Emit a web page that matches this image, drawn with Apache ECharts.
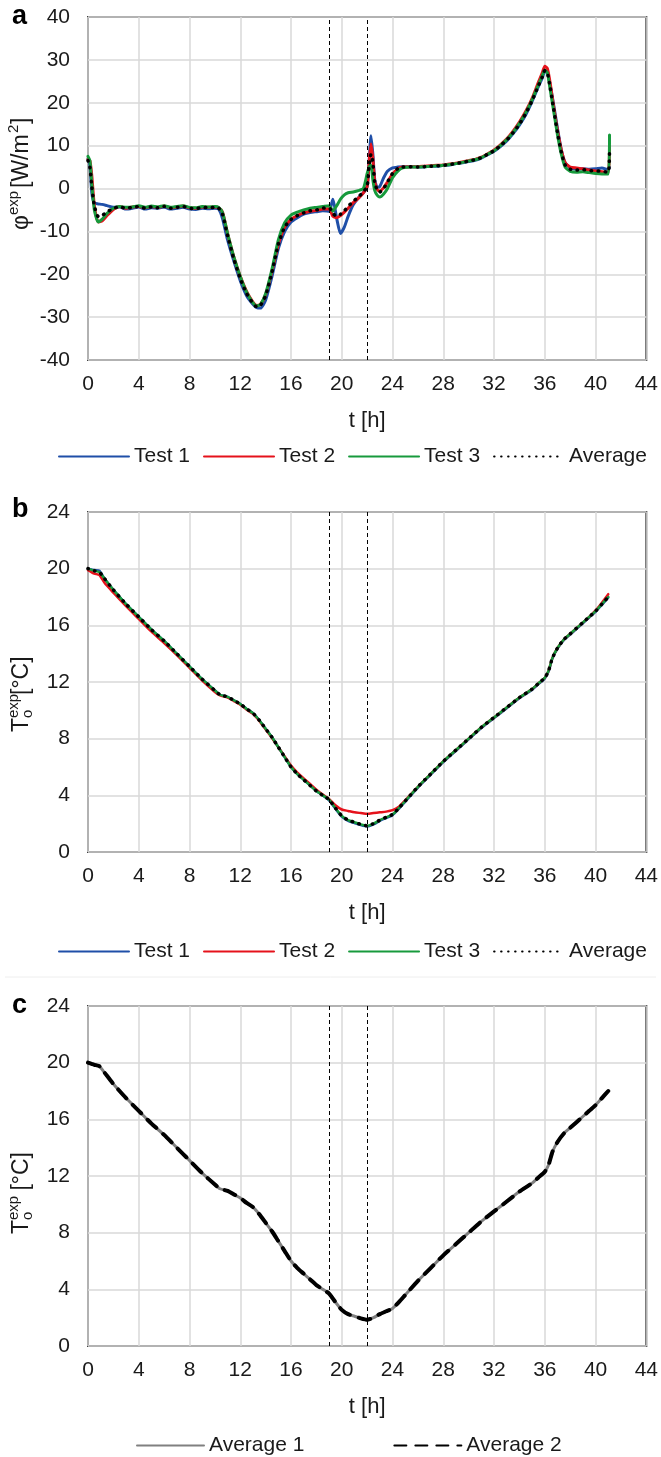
<!DOCTYPE html>
<html>
<head>
<meta charset="utf-8">
<script src="https://cdn.jsdelivr.net/npm/echarts@6/dist/echarts.min.js"></script>
<style>
  html, body { margin: 0; padding: 0; background: #fff; }
  #chart { width: 661px; height: 1457px; }
</style>
</head>
<body>
<div id="chart"></div>
<script>
// panel a: heat flux, time [h]
const tA = [
  0, 0.15, 0.3, 0.5, 0.8, 1.1, 1.5, 2, 2.5, 3,
  3.5, 4, 4.5, 5, 5.5, 6, 6.5, 7, 7.5, 8,
  8.5, 9, 9.5, 10, 10.3, 10.6, 11, 11.5, 12, 12.5,
  13, 13.3, 13.6, 14, 14.5, 15, 15.5, 16, 16.5, 17,
  17.5, 18, 18.5, 19, 19.3, 19.6, 19.9, 20.2, 20.5, 20.9,
  21.3, 21.7, 22, 22.15, 22.3, 22.45, 22.6, 22.8, 23, 23.3,
  23.6, 24, 24.4, 24.8, 25.5, 26, 26.5, 27, 27.5, 28,
  28.5, 29, 29.5, 30, 30.5, 31, 31.5, 32, 32.5, 33,
  33.5, 34, 34.5, 35, 35.5, 35.8, 36, 36.2, 36.4, 36.7,
  37, 37.3, 37.6, 38, 38.5, 39, 39.5, 40, 40.5, 41,
  41.1
]
const aTest1 = [
  7, 5.5, -1, -3.4, -3.6, -3.7, -4, -4.4, -4.3, -4.8,
  -4.6, -4.3, -4.8, -4.5, -4.6, -4.3, -4.8, -4.6, -4.4, -4.8,
  -4.9, -4.6, -4.7, -4.6, -4.8, -7, -12, -17, -21.5, -25,
  -27, -27.8, -27.9, -26, -20.5, -14, -10, -7.8, -6.8, -6,
  -5.6, -5.4, -5.2, -5.3, -2.5, -7, -10.5, -9, -6.5, -3.8,
  -2.2, -1, 0.5, 6, 12.3, 8, 2, 0.3, 0.5, 2.5,
  4, 4.8, 5, 5.1, 5.1, 5, 5, 5.2, 5.2, 5.4,
  5.5, 5.8, 6, 6.3, 6.6, 7.1, 7.9, 8.7, 9.8, 11.1,
  12.8, 14.8, 17.2, 20.3, 23.8, 25.8, 27.3, 27, 24.5, 19.5,
  14, 9, 6, 4.8, 4.5, 4.6, 4.5, 4.6, 4.8, 4.4,
  5
]
const aTest2 = [
  6.8, 6.5, 3, -4, -7.8, -7.6, -6.3, -4.9, -4.2, -4.6,
  -4.3, -4.2, -4.5, -4.2, -4.4, -4.1, -4.5, -4.3, -4.1, -4.5,
  -4.6, -4.3, -4.4, -4.3, -4.5, -5.5, -10.5, -16, -20.5, -24,
  -26.5, -27.3, -27, -24.7, -19.3, -13, -9, -7.2, -6.3, -5.7,
  -5.3, -5.1, -4.8, -4.7, -6.5, -6.8, -6.3, -5.5, -4.6, -3.3,
  -2.3, -1, 0.5, 6, 10.4, 7, 1.5, -0.3, -0.6, 0.2,
  1.5, 3.4, 4.5, 5, 5.1, 5.1, 5.2, 5.3, 5.4, 5.5,
  5.7, 5.9, 6.2, 6.5, 6.8, 7.3, 8.1, 9, 10.2, 11.6,
  13.4, 15.5, 18, 21, 24.8, 27, 28.5, 28, 25, 19,
  13.5, 9, 6, 5, 4.8, 4.6, 4.3, 4.1, 3.9, 3.7,
  10
]
const aTest3 = [
  7.5, 6.5, 1, -5, -7.8, -7.2, -5.8, -4.6, -4.2, -4.4,
  -4.3, -4, -4.4, -4.1, -4.3, -4, -4.4, -4.2, -4, -4.4,
  -4.5, -4.2, -4.3, -4.2, -4.4, -5.6, -10.5, -16, -20.5, -24.2,
  -26.7, -27.4, -27, -24.5, -18.8, -12, -8, -6.2, -5.5, -5,
  -4.6, -4.4, -4.2, -4, -5.3, -4, -2.5, -1.5, -1, -0.8,
  -0.5, 0, 3.5, 5, 5.5, 2, -0.5, -1.6, -2, -1.3,
  0, 2.5, 4, 4.8, 5, 5, 5.1, 5.2, 5.3, 5.4,
  5.6, 5.8, 6.1, 6.4, 6.7, 7.2, 8, 8.8, 10, 11.4,
  13.1, 15.2, 17.7, 20.7, 24.2, 26.3, 27.6, 27, 23.5, 18,
  12.5, 8, 5, 4, 3.8, 3.9, 3.7, 3.5, 3.4, 3.4,
  12.5
]
const aAvg = [
  6.5, 5, 0.5, -4, -6.5, -6.3, -5.5, -4.6, -4.3, -4.6,
  -4.4, -4.2, -4.6, -4.3, -4.5, -4.2, -4.6, -4.4, -4.2, -4.6,
  -4.7, -4.4, -4.5, -4.4, -4.6, -6, -11, -16.5, -21, -24.5,
  -26.8, -27.6, -27.2, -25, -19.5, -13, -9, -7.2, -6.3, -5.7,
  -5.2, -5, -4.6, -4.5, -5.8, -6.5, -6, -5.2, -4.2, -3,
  -2, -0.8, 0.5, 5, 8, 6, 1.5, -0.5, -0.8, 0,
  1.5, 3.5, 4.6, 5, 5.1, 5, 5.1, 5.2, 5.3, 5.4,
  5.6, 5.8, 6.1, 6.4, 6.7, 7.2, 8, 8.8, 10, 11.3,
  13, 15, 17.5, 20.5, 24, 26, 27.5, 27, 24, 18.5,
  13, 8.5, 5.5, 4.5, 4.3, 4.4, 4.2, 4.1, 4, 3.8,
  9
]

// panels b and c: operative temperature
const tB = [
  0, 0.5, 0.9, 1.3, 2, 3, 4, 5, 6, 7,
  8, 9, 10, 10.4, 11, 11.5, 12, 12.5, 13, 13.5,
  14, 14.5, 15, 15.5, 16, 16.5, 17, 17.5, 18, 18.5,
  19, 19.5, 20, 20.5, 21, 21.5, 22, 22.5, 23, 23.5,
  24, 24.5, 25, 26, 27, 28, 29, 30, 31, 32,
  33, 34, 35, 35.5, 36, 36.3, 36.6, 37, 37.5, 38,
  38.5, 39, 39.5, 40, 40.5, 41
]
const bAvg = [
  20, 19.85, 19.75, 19.3, 18.5, 17.5, 16.6, 15.7, 14.9, 14,
  13.1, 12.2, 11.4, 11.1, 10.95, 10.7, 10.45, 10.1, 9.8, 9.3,
  8.7, 8.1, 7.4, 6.7, 6, 5.5, 5.1, 4.7, 4.3, 4,
  3.7, 3.1, 2.55, 2.25, 2.1, 1.95, 1.85, 2, 2.25, 2.45,
  2.65, 3.1, 3.6, 4.6, 5.5, 6.4, 7.2, 8, 8.8, 9.5,
  10.2, 10.9, 11.5, 11.9, 12.3, 12.8, 13.7, 14.4, 15, 15.4,
  15.8, 16.2, 16.6, 17, 17.5, 18
]
const bTest1 = [
  20, 19.9, 19.85, 19.3, 18.5, 17.5, 16.6, 15.7, 14.9, 14,
  13.1, 12.2, 11.4, 11.1, 10.95, 10.7, 10.45, 10.1, 9.8, 9.3,
  8.7, 8.1, 7.4, 6.7, 6, 5.5, 5.1, 4.7, 4.3, 4,
  3.65, 3.05, 2.5, 2.2, 2.05, 1.9, 1.8, 1.95, 2.2, 2.4,
  2.6, 3.05, 3.55, 4.55, 5.45, 6.35, 7.15, 7.95, 8.75, 9.45,
  10.15, 10.85, 11.45, 11.85, 12.25, 12.75, 13.65, 14.35, 14.95, 15.35,
  15.75, 16.15, 16.55, 16.95, 17.45, 17.95
]
const bTest2 = [
  19.9, 19.65, 19.55, 19, 18.3, 17.35, 16.45, 15.55, 14.75, 13.9,
  13, 12.1, 11.3, 11.05, 10.9, 10.65, 10.4, 10.05, 9.75, 9.25,
  8.65, 8.05, 7.4, 6.75, 6.1, 5.6, 5.2, 4.8, 4.4, 4.05,
  3.75, 3.3, 3, 2.9, 2.8, 2.75, 2.7, 2.75, 2.8, 2.85,
  2.95, 3.2, 3.65, 4.6, 5.5, 6.4, 7.2, 8, 8.8, 9.5,
  10.2, 10.9, 11.5, 11.9, 12.3, 12.8, 13.7, 14.4, 15, 15.4,
  15.8, 16.2, 16.6, 17.05, 17.6, 18.2
]
const bTest3 = bAvg
const cAvg1 = bAvg
const cAvg2 = bAvg

const xTicks = [0, 44, 4]
const yTicksA = [-40, 40, 10]
const yTicksT = [0, 24, 4]

const FONT = 'Liberation Sans'
const BLUE = '#1f4fa8'
const RED = '#e5121b'
const GREEN = '#179a3c'
const pair = (ts, vs) => ts.map((t, i) => [t, vs[i]])

const grids = [
  { left: 88, right: 13, top: 17, height: 343 },
  { left: 88, right: 13, top: 512, height: 340 },
  { left: 88, right: 13, top: 1006, height: 340 }
].map((g) => ({ ...g, show: true, borderColor: '#404040', borderWidth: 2 }))

const xAxis = [0, 1, 2].map((i) => ({
  gridIndex: i,
  type: 'value',
  min: xTicks[0], max: xTicks[1], interval: xTicks[2],
  name: 't [h]',
  nameLocation: 'middle',
  nameGap: 50,
  nameTextStyle: { fontFamily: FONT, fontSize: 22, color: '#1a1a1a' },
  axisLine: { show: false },
  axisTick: { show: false },
  axisLabel: { fontFamily: FONT, fontSize: 21, color: '#1a1a1a', margin: 14 },
  splitLine: { lineStyle: { color: '#d9d9d9', width: 1.5 } }
}))

const yAxis = [yTicksA, yTicksT, yTicksT].map((tk, i) => ({
  gridIndex: i,
  type: 'value',
  min: tk[0], max: tk[1], interval: tk[2],
  axisLine: { show: false },
  axisTick: { show: false },
  axisLabel: { fontFamily: FONT, fontSize: 21, color: '#1a1a1a', margin: 18 },
  splitLine: { lineStyle: { color: '#d9d9d9', width: 1.5 } }
}))

const line = (name, gi, ts, vs, color, width, type, z) => ({
  type: 'line',
  name,
  xAxisIndex: gi,
  yAxisIndex: gi,
  data: pair(ts, vs),
  showSymbol: false,
  symbol: 'none',
  smooth: 0.2,
  z,
  itemStyle: { color },
  lineStyle: { color, width, type, cap: 'round', join: 'round' }
})

const guides = {
  silent: true,
  symbol: ['none', 'none'],
  label: { show: false },
  lineStyle: { color: '#000', type: [4, 3], width: 1 },
  data: [{ xAxis: 19 }, { xAxis: 22 }]
}

const dots = [0.5, 6.5]

const series = [
  line('Test 1', 0, tA, aTest1, BLUE, 3, 'solid', 2),
  line('Test 2', 0, tA, aTest2, RED, 3, 'solid', 3),
  line('Test 3', 0, tA, aTest3, GREEN, 3, 'solid', 4),
  { ...line('Average', 0, tA, aAvg, '#000', 3.5, dots, 5), markLine: guides },
  line('Test 1', 1, tB, bTest1, BLUE, 2.5, 'solid', 2),
  line('Test 2', 1, tB, bTest2, RED, 2.5, 'solid', 3),
  line('Test 3', 1, tB, bTest3, GREEN, 2.5, 'solid', 4),
  { ...line('Average', 1, tB, bAvg, '#000', 3.5, dots, 5), markLine: guides },
  { ...line('Average 1', 2, tB, cAvg1, '#808080', 3, 'solid', 3), markLine: guides },
  line('Average 2', 2, tB, cAvg2, '#000', 4, [12, 9], 4)
]

// the legend draws a circle on line icons; hide it
const legendBase = {
  orient: 'horizontal',
  padding: 0,
  width: 620,
  itemWidth: 70,
  itemHeight: 14,
  itemStyle: { opacity: 0 },
  textStyle: { fontFamily: FONT, fontSize: 21, color: '#1a1a1a' }
}

const legend = [
  { ...legendBase, data: ['Test 1', 'Test 2', 'Test 3', 'Average'], left: 58, top: 446, itemGap: 13 },
  { ...legendBase, data: ['Test 1', 'Test 2', 'Test 3', 'Average'], left: 58, top: 941, itemGap: 13 },
  { ...legendBase, data: ['Average 1', 'Average 2'], left: 136, top: 1435, itemWidth: 67, itemGap: 89 }
]

const txt = (text, x, y, size, extra) => ({
  type: 'text', x, y,
  style: { text, fontFamily: FONT, fontSize: size, fill: '#1a1a1a', verticalAlign: 'middle', ...extra }
})

// rotated y-axis titles, local x runs upward on screen
const tTitle = (cy, shift, label) => ({
  type: 'group', x: 22, y: cy, rotation: Math.PI / 2,
  children: [
    txt('T', shift, 0, 23),
    txt('o', shift + 14, 6, 15),
    txt('exp', shift + 14, -8, 15),
    txt(label, shift + 37, 0, 23)
  ]
})

const graphic = [
  txt('a', 12, 17, 27, { fontWeight: 'bold', fill: '#000' }),
  txt('b', 12, 510, 27, { fontWeight: 'bold', fill: '#000' }),
  txt('c', 12, 1006, 27, { fontWeight: 'bold', fill: '#000' }),
  {
    type: 'group', x: 22, y: 188, rotation: Math.PI / 2,
    children: [
      txt('φ', -42, 0, 23),
      txt('exp', -27, -8, 15),
      txt('[W/m', 0, 0, 23),
      txt('2', 55, -8, 15),
      txt(']', 64, 0, 23)
    ]
  },
  tTitle(682, -50, '[°C]'),
  tTitle(1176, -58, ' [°C]'),
  { type: 'line', shape: { x1: 5, y1: 977, x2: 656, y2: 977 }, style: { stroke: '#eeeeee', lineWidth: 1 } }
]

const chart = echarts.init(document.getElementById('chart'))
chart.setOption({
  animation: false,
  backgroundColor: '#fff',
  grid: grids,
  xAxis,
  yAxis,
  legend,
  graphic,
  series
})
</script>
</body>
</html>
